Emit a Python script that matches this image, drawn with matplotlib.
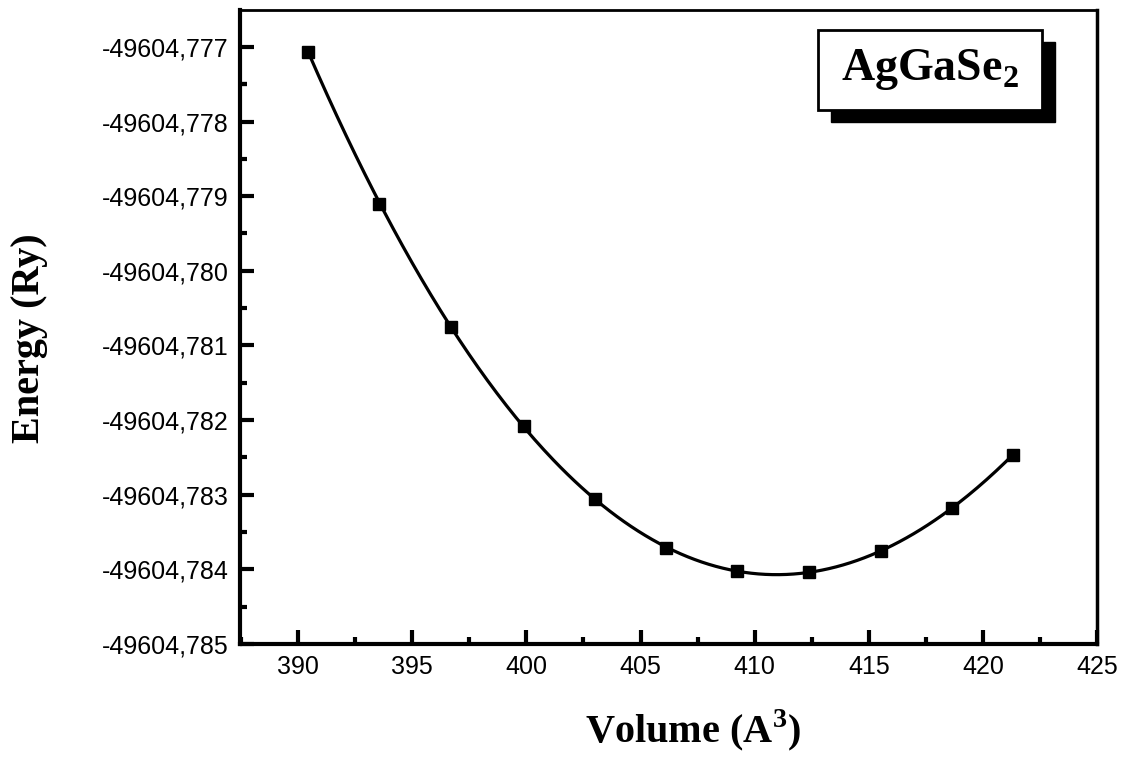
import numpy as np
import matplotlib
matplotlib.use("Agg")
import matplotlib.pyplot as plt
from matplotlib.ticker import FixedLocator, MultipleLocator, FuncFormatter
from matplotlib.patches import Rectangle

# Data
volume = [390.45, 393.55, 396.71, 399.88, 403.00, 406.10, 409.24, 412.38, 415.53, 418.64, 421.30]
energy = [-49604.77707, -49604.77910, -49604.78075, -49604.78208, -49604.78306,
          -49604.78371, -49604.78402, -49604.78404, -49604.78375, -49604.78318, -49604.78247]
x_ticks = [390, 395, 400, 405, 410, 415, 420, 425]
y_ticks = [-49604.777, -49604.778, -49604.779, -49604.780, -49604.781,
           -49604.782, -49604.783, -49604.784, -49604.785]
label_text = r"AgGaSe$_{\mathbf{2}}$"

plt.rcParams['mathtext.fontset'] = 'custom'
plt.rcParams['mathtext.rm'] = 'Liberation Serif'
plt.rcParams['mathtext.bf'] = 'Liberation Serif:bold'
plt.rcParams['font.family'] = 'Liberation Sans'

fig = plt.figure(figsize=(11.25, 7.58), dpi=100)
ax = fig.add_axes([0.2133, 0.1504, 0.7618, 0.8364])

v = np.array(volume)
e = np.array(energy)
off = -49604.78
coef = np.polyfit(v, e - off, 3)
vv = np.linspace(v.min(), v.max(), 300)
ax.plot(vv, np.polyval(coef, vv) + off, color='black', lw=2.3, zorder=3)
ax.plot(v, e, linestyle='none', marker='s', markersize=9, color='black', zorder=4)

ax.set_xlim(387.45, 425)
ax.set_ylim(-49604.785, -49604.776506)

ax.xaxis.set_major_locator(FixedLocator(x_ticks))
ax.xaxis.set_minor_locator(MultipleLocator(2.5))
ax.yaxis.set_major_locator(FixedLocator(y_ticks))
ax.yaxis.set_minor_locator(FixedLocator([t + 0.0005 for t in y_ticks] + [y_ticks[0] - 0.0005]))
ax.yaxis.set_major_formatter(FuncFormatter(lambda val, pos: f"{val:.3f}".replace('.', ',')))
ax.xaxis.set_major_formatter(FuncFormatter(lambda val, pos: f"{val:.0f}"))

ax.tick_params(which='both', direction='in', top=False, right=False, width=3)
ax.tick_params(which='major', length=10, labelsize=18, pad=8)
ax.tick_params(which='minor', length=5)
for s in ax.spines.values():
    s.set_linewidth(3)
ax.spines['top'].set_linewidth(2)
ax.spines['right'].set_linewidth(2.5)

ax.set_xlabel(r"Volume (A$^{\mathbf{3}}$)", fontfamily='Liberation Serif', fontweight='bold', fontsize=29)
ax.xaxis.set_label_coords(0.529, -0.1)
ax.set_ylabel("Energy (Ry)", fontfamily='Liberation Serif', fontweight='bold', fontsize=29)
ax.yaxis.set_label_coords(-0.224, 0.483)

# Label box with shadow
bx0, bx1, by0, by1 = 0.6745, 0.9358, 0.8423, 0.9685
dx, dy = 0.0152, -0.0189
ax.add_patch(Rectangle((bx0 + dx, by0 + dy), bx1 - bx0, by1 - by0, transform=ax.transAxes,
                       facecolor='black', edgecolor='black', zorder=5, clip_on=False))
ax.add_patch(Rectangle((bx0, by0), bx1 - bx0, by1 - by0, transform=ax.transAxes,
                       facecolor='white', edgecolor='black', lw=2, zorder=6, clip_on=False))
ax.text((bx0 + bx1) / 2, (by0 + by1) / 2, label_text, transform=ax.transAxes,
        ha='center', va='center', fontfamily='Liberation Serif', fontweight='bold',
        fontsize=33, zorder=7)

fig.savefig('out.png', dpi=100)
